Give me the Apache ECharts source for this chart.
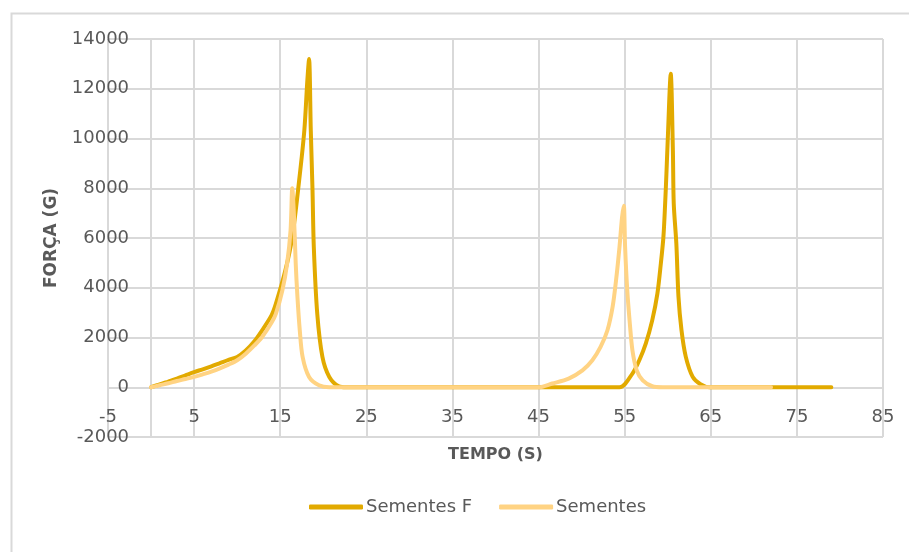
<!DOCTYPE html>
<html>
<head>
<meta charset="utf-8">
<script src="https://cdn.jsdelivr.net/npm/echarts@6/dist/echarts.min.js"></script>
<style>
html,body{margin:0;padding:0;background:#ffffff;}
#chart{width:909px;height:552px;}
</style>
</head>
<body>
<div id="chart"></div>
<script>
// ---- data ----
const seriesNames = ['Sementes F', 'Sementes'];
const xAxisTitle = 'TEMPO (S)';
const yAxisTitle = 'FORÇA (G)';

const tempoF = [0, 1, 2, 3, 4, 5, 6, 7, 8, 9, 10, 11, 12, 12.9, 14, 14.5, 15.6, 16.4, 17.2, 17.8, 18.15, 18.35,
  18.55, 18.75, 18.9, 19.3, 19.9, 20.7, 21.8, 22.7, 30, 40, 46, 50, 54.4, 55.9, 56.7, 57.45, 58.2, 58.8, 59.2,
  59.5, 59.7, 59.85, 60.0, 60.35, 60.6, 60.7, 61.0, 61.25, 61.6, 62.1, 62.9, 63.8, 64.8, 70, 79];
const forcaF = [0, 110, 230, 350, 480, 610, 720, 840, 970, 1100, 1220, 1480, 1850, 2290, 2900, 3360, 4700, 6040, 8320, 10330, 12340, 13200,
  10330, 7920, 5640, 2960, 1220, 415, 40, 0, 0, 0, 0, 0, 0, 550, 1085, 1755, 2690, 3765, 4970,
  6040, 7380, 8590, 9930, 12600, 9530, 7380, 5780, 3630, 2290, 1220, 415, 120, 0, 0, 0];

const tempoS = [0, 1, 2, 3, 4, 5, 6, 7, 8, 9, 10, 11, 12, 12.9, 14, 14.5, 15.25, 15.8, 16.2, 16.4, 16.6, 16.8,
  17.0, 17.27, 17.6, 18.35, 19.5, 20.7, 30, 40, 45, 46.6, 48.5, 50.1, 51.25, 52.2, 53.0, 53.6, 54.0, 54.4,
  54.7, 54.9, 55.05, 55.3, 55.6, 55.9, 56.4, 57.1, 58.2, 59.4, 65, 72];
const forcaS = [0, 80, 160, 250, 330, 415, 520, 630, 760, 910, 1085, 1350, 1680, 2020, 2600, 2960, 3900, 4970, 6310, 8000, 6850, 4970,
  3630, 2290, 1220, 415, 80, 0, 0, 0, 0, 150, 350, 680, 1085, 1620, 2290, 3230, 4300, 5640,
  6850, 7300, 5640, 3900, 2560, 1490, 680, 280, 40, 0, 0, 0];

const xMin = -5, xMax = 85, xStep = 10;
const yMin = -2000, yMax = 14000, yStep = 2000;

const colors = ['#E2AA00', '#FFD383'];

function pairs(xs, ys) { return xs.map((x, i) => [x, ys[i]]); }

// grid box (pixels)
const W = 909, H = 552;
const gridL = 108, gridR = 26, gridT = 39, gridB = 115;
const plotW = W - gridL - gridR, plotH = H - gridT - gridB;
// axes cross at value 0 of the other axis: shift each axis there
const xAxisOffset = -plotH * (0 - yMin) / (yMax - yMin);
const yAxisOffset = -plotW * (0 - xMin) / (xMax - xMin);

const chart = echarts.init(document.getElementById('chart'), null, { renderer: 'canvas' });
const labelStyle = { color: '#595959', fontFamily: 'DejaVu Sans', fontSize: 18 };
const gridColor = '#d9d9d9';

chart.setOption({
  animation: false,
  backgroundColor: '#ffffff',
  graphic: [{
    type: 'rect', left: 9, top: 11, shape: { width: 1000, height: 600 },
    style: { fill: 'none', stroke: gridColor, lineWidth: 2 }, silent: true, z: -1
  }],
  grid: { left: gridL, right: gridR, top: gridT, bottom: gridB, containLabel: false, outerBoundsMode: 'none' },
  legend: {
    data: seriesNames,
    left: 304, top: 493,
    icon: 'roundRect',
    itemWidth: 54, itemHeight: 5, itemGap: 27,
    textStyle: { color: '#595959', fontFamily: 'DejaVu Sans', fontSize: 18, padding: [0, 0, 0, -2] }
  },
  xAxis: {
    type: 'value', min: xMin, max: xMax, interval: xStep,
    position: 'bottom', offset: xAxisOffset,
    name: xAxisTitle, nameLocation: 'middle', nameGap: 68,
    nameTextStyle: { color: '#595959', fontFamily: 'DejaVu Sans', fontSize: 16, fontWeight: 'bold', verticalAlign: 'middle' },
    axisLine: { onZero: false, lineStyle: { color: gridColor, width: 2 } },
    axisTick: { show: false },
    axisLabel: Object.assign({ margin: 21, showMinLabel: true, showMaxLabel: true, formatter: v => String(v) }, labelStyle),
    splitLine: { show: true, lineStyle: { color: gridColor, width: 2 } }
  },
  yAxis: {
    type: 'value', min: yMin, max: yMax, interval: yStep,
    position: 'left', offset: yAxisOffset,
    name: yAxisTitle, nameLocation: 'middle', nameGap: 99, nameRotate: 90,
    nameTextStyle: { color: '#595959', fontFamily: 'DejaVu Sans', fontSize: 17, fontWeight: 'bold', verticalAlign: 'middle' },
    axisLine: { onZero: false, lineStyle: { color: gridColor, width: 2 } },
    axisTick: { show: false },
    axisLabel: Object.assign({ margin: 22, showMinLabel: true, showMaxLabel: true, formatter: v => String(v) }, labelStyle),
    splitLine: { show: true, lineStyle: { color: gridColor, width: 2 } }
  },
  series: [
    {
      name: seriesNames[0], type: 'line', data: pairs(tempoF, forcaF),
      showSymbol: false, symbol: 'none', smooth: 0.3,
      lineStyle: { color: colors[0], width: 4, cap: 'round', join: 'round' },
      itemStyle: { color: colors[0] }
    },
    {
      name: seriesNames[1], type: 'line', data: pairs(tempoS, forcaS),
      showSymbol: false, symbol: 'none', smooth: 0.3,
      lineStyle: { color: colors[1], width: 4, cap: 'round', join: 'round' },
      itemStyle: { color: colors[1] }
    }
  ]
});
</script>
</body>
</html>
